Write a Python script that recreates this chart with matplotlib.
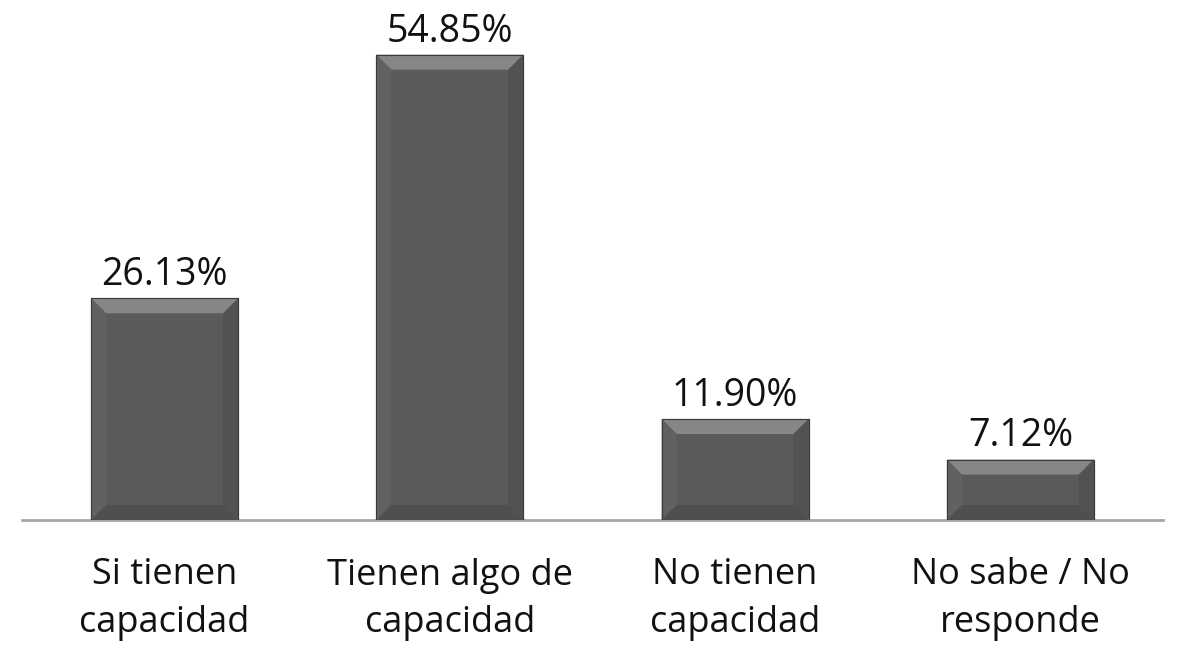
import matplotlib.pyplot as plt
from matplotlib.patches import Polygon

categories = ['Si tienen\ncapacidad', 'Tienen algo de\ncapacidad',
              'No tienen\ncapacidad', 'No sabe / No\nresponde']
values = [26.13, 54.85, 11.90, 7.12]
value_labels = ['26.13%', '54.85%', '11.90%', '7.12%']

plt.rcParams['font.family'] = ['Open Sans', 'DejaVu Sans']

fig = plt.figure(figsize=(11.89, 6.59), dpi=100)
ax = fig.add_axes([22 / 1189, 139 / 659, 1141 / 1189, 509 / 659])

x = range(len(categories))
bars = ax.bar(x, values, width=0.515, color='#5a5a5a', edgecolor='#3f3f3f',
              linewidth=0.8, zorder=2)
ax.set_xlim(-0.5, len(categories) - 0.5)
ax.set_ylim(0, 60)

# bevel effect, depth in pixels
d = 15
inv = ax.transData.inverted()
for b in bars:
    x0, y0 = ax.transData.transform((b.get_x(), 0))
    x1, y1 = ax.transData.transform((b.get_x() + b.get_width(), b.get_height()))
    faces = [
        ([(x0, y1), (x1, y1), (x1 - d, y1 - d), (x0 + d, y1 - d)], '#868686'),
        ([(x0, y0), (x0, y1), (x0 + d, y1 - d), (x0 + d, y0 + d)], '#616161'),
        ([(x1, y0), (x1, y1), (x1 - d, y1 - d), (x1 - d, y0 + d)], '#525252'),
        ([(x0, y0), (x1, y0), (x1 - d, y0 + d), (x0 + d, y0 + d)], '#4f4f4f'),
    ]
    for pts, c in faces:
        ax.add_patch(Polygon(inv.transform(pts), closed=True, facecolor=c,
                             edgecolor='none', zorder=3))
    ax.add_patch(Polygon(inv.transform([(x0, y0), (x1, y0), (x1, y1), (x0, y1)]),
                         closed=True, fill=False, edgecolor='#3a3a3a',
                         linewidth=0.8, zorder=4))

for i, (v, lab) in enumerate(zip(values, value_labels)):
    ax.annotate(lab, (i, v), xytext=(0, 3), textcoords='offset points',
                ha='center', va='bottom', fontsize=27, color='#111111')

ax.set_xticks(list(x))
ax.set_xticklabels(categories, fontsize=26, color='#111111', linespacing=1.42)
ax.tick_params(axis='x', length=0, pad=27)
ax.set_yticks([])
for s in ['top', 'left', 'right']:
    ax.spines[s].set_visible(False)
ax.spines['bottom'].set_color('#a6a6a6')
ax.spines['bottom'].set_linewidth(2)

fig.savefig('out.png', dpi=100, facecolor='white')
